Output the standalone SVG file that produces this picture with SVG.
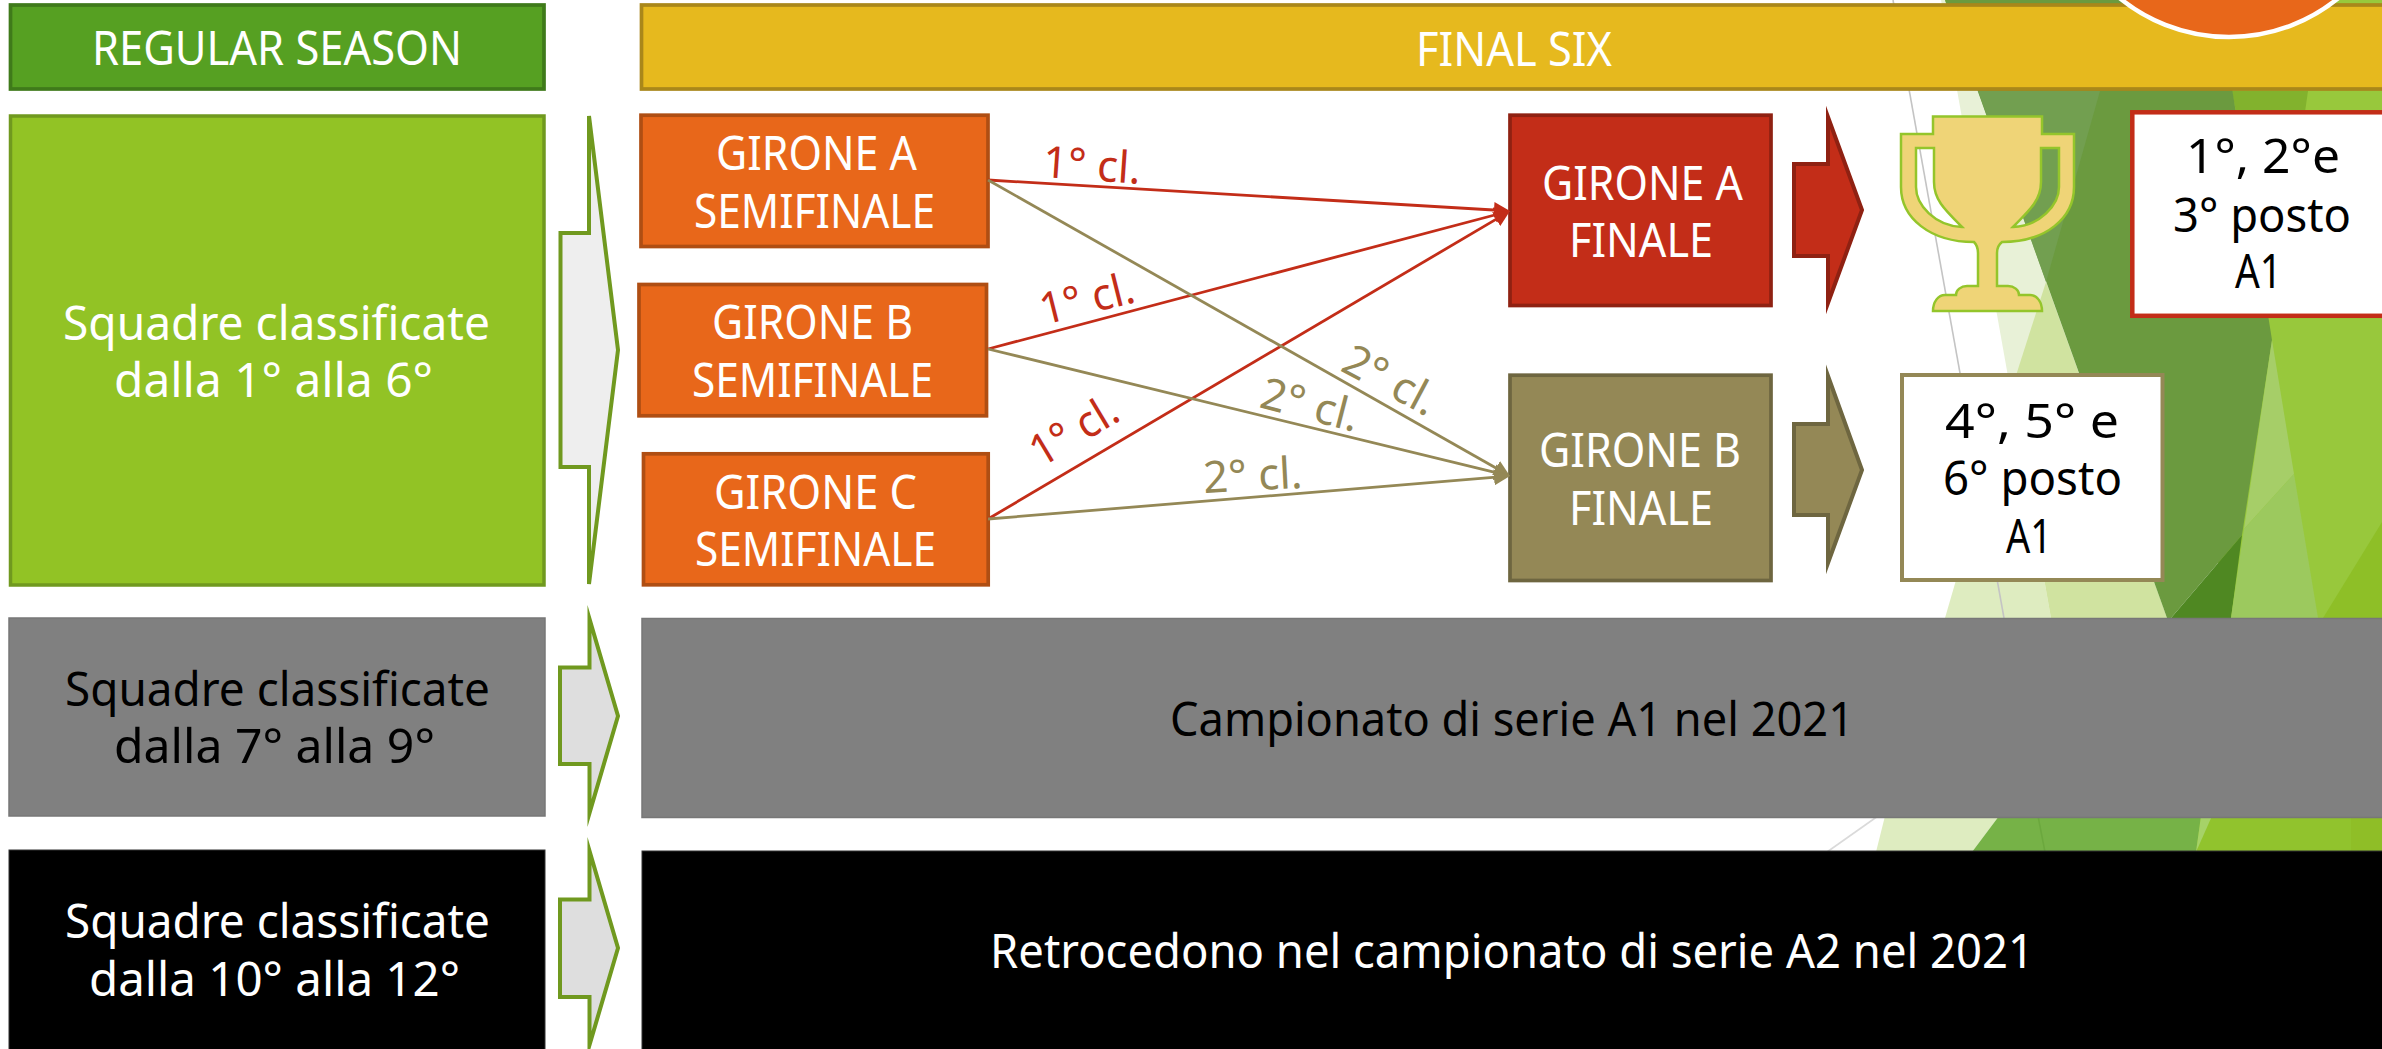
<svg xmlns="http://www.w3.org/2000/svg" width="2382" height="1049" viewBox="0 0 2382 1049">
<style>
text{font-family:"Noto Sans","Open Sans","Liberation Sans",sans-serif;font-size:48px;fill:#fff;font-variant-ligatures:none}
.k{fill:#000}
.lr{font-size:44px;fill:#C32D18}
.lo{font-size:44px;fill:#948856}
.semi{fill:#E8671A;stroke:#AF4E13;stroke-width:3.7}
.bar{stroke-width:3.7}
.big{stroke:#70991F;stroke-width:4}
.sharp{stroke-miterlimit:30}
.cr{stroke:#C32D18;stroke-width:2.8;fill:none}
.co{stroke:#948856;stroke-width:2.8;fill:none}
</style>
<defs>
<marker id="hr" markerUnits="userSpaceOnUse" markerWidth="16" markerHeight="16" refX="8" refY="8" orient="auto"><path d="M0 0L16 8L0 16Z" fill="#C32D18"/></marker>
<marker id="ho" markerUnits="userSpaceOnUse" markerWidth="16" markerHeight="16" refX="8" refY="8" orient="auto"><path d="M0 0L16 8L0 16Z" fill="#948856"/></marker>
</defs>
<rect width="2382" height="1049" fill="#fff"/>
<g id="background">
<rect x="1945" y="0" width="437" height="12" fill="#98C83C"/>
<rect x="2218" y="0" width="164" height="618" fill="#98C83C"/>
<polygon points="2323,618 2382,522 2382,618" fill="#8EBF27"/>
<polygon points="2232,91 2308,91 2305,112 2236,112" fill="#82B22D"/>
<polygon points="1941,0 1945,0 2167,618 2051,618" fill="#E8F1D7"/>
<polygon points="2011,391 1945,618 2051,618" fill="#DEECC0"/>
<polygon points="2046,282 2011,391 2051,618 2167,618" fill="#D0E3A0"/>
<polygon points="1945,0 2218,0 2272,340 2242,535 2171,618 2167,618" fill="#6B9A3F"/>
<polygon points="1978,91 2100,91 2046,282" fill="#729F50"/>
<polygon points="2171,618 2242,535 2231,618" fill="#4F8822"/>
<polygon points="2272,340 2294,474 2244,529" fill="#A6CE68"/>
<polygon points="2294,474 2318,618 2231,618 2244,529" fill="#9CC95E"/>
<line x1="1893" y1="0" x2="2004" y2="618" stroke="#C4C4C4" stroke-width="1.6"/>
<rect x="2196" y="816" width="186" height="36" fill="#91C32D"/>
<polygon points="1885,816 1999,816 1972,852 1876,852" fill="#DEECC0"/>
<polygon points="1999,816 2201,816 2196,852 1972,852" fill="#76B247"/>
<polygon points="2201,816 2212,816 2196,852" fill="#A6D268"/>
<rect x="2351" y="816" width="31" height="36" fill="#8FBE27"/>
<line x1="2038" y1="816" x2="2045" y2="852" stroke="#6BA83E" stroke-width="1.5"/>
<line x1="1878" y1="816" x2="1827" y2="852" stroke="#DADADA" stroke-width="1.6"/>
</g>
<g id="regular-season"><rect class="bar" x="10.5" y="5" width="533.500" height="84" fill="#56A022" stroke="#3F7A1A"/><text x="92" y="65" textLength="370" lengthAdjust="spacingAndGlyphs">REGULAR SEASON</text></g>
<g id="final-six"><rect class="bar" x="641.500" y="5" width="1750" height="84" fill="#E6B91E" stroke="#A9871A"/><text x="1416" y="66" textLength="196" lengthAdjust="spacingAndGlyphs">FINAL SIX</text></g>
<g id="top-circle"><circle cx="2229" cy="-136" r="173" fill="#E8671A" stroke="#fff" stroke-width="4.500"/></g>
<g id="reg-1-6"><rect x="10.500" y="116" width="533.500" height="469" fill="#92C325" stroke="#70991F" stroke-width="3.500"/><text x="63" y="340" textLength="427" lengthAdjust="spacingAndGlyphs">Squadre classificate</text><text x="114" y="397" textLength="319" lengthAdjust="spacingAndGlyphs">dalla 1° alla 6°</text></g>
<g id="arrow-1"><polygon class="big" points="560.500,233 589,233 589,116 618,350 589,584 589,467 560.500,467" fill="#EEEEEE"/></g>
<g id="reg-7-9"><rect x="9" y="618" width="536" height="198" fill="#808080" stroke="#777" stroke-width="1.500"/><text class="k" x="65" y="706" textLength="425" lengthAdjust="spacingAndGlyphs">Squadre classificate</text><text class="k" x="114" y="763" textLength="321" lengthAdjust="spacingAndGlyphs">dalla 7° alla 9°</text></g>
<g id="arrow-2"><polygon class="big sharp" points="560,667.500 589.500,667.500 589.500,619 618,716 589.500,813 589.500,764 560,764" fill="#DEDEDE"/></g>
<g id="reg-10-12"><rect x="9" y="850" width="536" height="210" fill="#000" stroke="#333" stroke-width="1"/><text x="65" y="938" textLength="425" lengthAdjust="spacingAndGlyphs">Squadre classificate</text><text x="89" y="996" textLength="371" lengthAdjust="spacingAndGlyphs">dalla 10° alla 12°</text></g>
<g id="arrow-3"><polygon class="big sharp" points="560,899.500 589.500,899.500 589.500,851 618,948 589.500,1045 589.500,997 560,997" fill="#DEDEDE"/></g>
<g id="serie-a1"><rect x="642" y="618.500" width="1750" height="199" fill="#808080" stroke="#777" stroke-width="1.500"/><text class="k" x="1170" y="736" textLength="684" lengthAdjust="spacingAndGlyphs">Campionato di serie A1 nel 2021</text></g>
<g id="serie-a2"><rect x="642" y="851" width="1750" height="210" fill="#000" stroke="#333" stroke-width="1"/><text x="990" y="968" textLength="1044" lengthAdjust="spacingAndGlyphs">Retrocedono nel campionato di serie A2 nel 2021</text></g>
<g id="semi-a"><rect class="semi" x="641" y="115.200" width="347" height="131.300"/><text x="716" y="170" textLength="201" lengthAdjust="spacingAndGlyphs">GIRONE A</text><text x="694" y="228" textLength="241" lengthAdjust="spacingAndGlyphs">SEMIFINALE</text></g>
<g id="semi-b"><rect class="semi" x="639" y="284.500" width="347.500" height="131.300"/><text x="712" y="339" textLength="201" lengthAdjust="spacingAndGlyphs">GIRONE B</text><text x="692" y="397" textLength="241" lengthAdjust="spacingAndGlyphs">SEMIFINALE</text></g>
<g id="semi-c"><rect class="semi" x="643.500" y="453.800" width="344.700" height="131"/><text x="714" y="509" textLength="203" lengthAdjust="spacingAndGlyphs">GIRONE C</text><text x="695" y="566" textLength="241" lengthAdjust="spacingAndGlyphs">SEMIFINALE</text></g>
<g id="final-a"><rect x="1510" y="115.200" width="261" height="190.300" fill="#C32D18" stroke="#8F2112" stroke-width="3.700"/><text x="1542" y="200" textLength="201" lengthAdjust="spacingAndGlyphs">GIRONE A</text><text x="1569" y="257" textLength="144" lengthAdjust="spacingAndGlyphs">FINALE</text></g>
<g id="final-b"><rect x="1510" y="375.200" width="261" height="205.300" fill="#948856" stroke="#6E6640" stroke-width="3.700"/><text x="1539" y="467" textLength="202" lengthAdjust="spacingAndGlyphs">GIRONE B</text><text x="1569" y="525" textLength="144" lengthAdjust="spacingAndGlyphs">FINALE</text></g>
<g id="arrow-red"><polygon class="sharp" points="1794,164 1828,164 1828,117 1862,210 1828,303 1828,256 1794,256" fill="#C32D18" stroke="#8F2112" stroke-width="4"/></g>
<g id="arrow-olive"><polygon class="sharp" points="1794,424 1828,424 1828,376 1862,470 1828,563 1828,515 1794,515" fill="#948856" stroke="#6E6640" stroke-width="4"/></g>
<g id="trophy"><path fill-rule="evenodd" fill="#EFD477" stroke="#94C52B" stroke-width="2.500" d="M1933 116.500H2042V134H2074V187C2074 218 2046 242 2002 242C1998 245 1997 249 1997 253V286H2008C2014 286 2019 290 2019 295H2030C2037 295 2042 302 2042 311H1933C1933 302 1938 295 1945 295H1956C1956 290 1961 286 1967 286H1978V253C1978 249 1977 245 1974 242C1930 242 1901 218 1901 187V134H1933ZM1916 148V187C1916 205 1935 226 1962 227C1945 210 1934 200 1934 182V148ZM2041 148V182C2041 200 2030 210 2013 227C2040 226 2059 205 2059 187V148Z"/></g>
<g id="result-1"><rect x="2132.300" y="112.300" width="260" height="203.500" fill="#fff" stroke="#C32D18" stroke-width="4.500"/><text class="k" x="2186" y="173" textLength="154" lengthAdjust="spacingAndGlyphs">1°, 2°e</text><text class="k" x="2173" y="232" textLength="178" lengthAdjust="spacingAndGlyphs">3° posto</text><text class="k" x="2235" y="288" textLength="47" lengthAdjust="spacingAndGlyphs">A1</text></g>
<g id="result-2"><rect x="1902" y="375" width="260.500" height="205" fill="#fff" stroke="#948856" stroke-width="4"/><text class="k" x="1945" y="438" textLength="174" lengthAdjust="spacingAndGlyphs">4°, 5° e</text><text class="k" x="1943" y="495" textLength="179" lengthAdjust="spacingAndGlyphs">6° posto</text><text class="k" x="2006" y="553" textLength="46" lengthAdjust="spacingAndGlyphs">A1</text></g>
<g id="connectors">
<path class="cr" d="M988 180L1502 210.500" marker-end="url(#hr)"/>
<path class="cr" d="M988 349L1502.300 213" marker-end="url(#hr)"/>
<path class="cr" d="M988 519L1503.100 215.100" marker-end="url(#hr)"/>
<path class="co" d="M988 180L1503 472" marker-end="url(#ho)"/>
<path class="co" d="M988 349L1502.200 474.100" marker-end="url(#ho)"/>
<path class="co" d="M988 519L1502 476.700" marker-end="url(#ho)"/>
<text class="lr" transform="translate(1042,177) rotate(4)" textLength="98" lengthAdjust="spacingAndGlyphs">1° cl.</text>
<text class="lr" transform="translate(1044,325) rotate(-14)" textLength="96" lengthAdjust="spacingAndGlyphs">1° cl.</text>
<text class="lr" transform="translate(1041,468) rotate(-31)" textLength="95" lengthAdjust="spacingAndGlyphs">1° cl.</text>
<text class="lo" transform="translate(1204,493) rotate(-3)" textLength="99" lengthAdjust="spacingAndGlyphs">2° cl.</text>
<text class="lo" transform="translate(1258,407) rotate(14.500)" textLength="100" lengthAdjust="spacingAndGlyphs">2° cl.</text>
<text class="lo" transform="translate(1339,370) rotate(28)" textLength="100" lengthAdjust="spacingAndGlyphs">2° cl.</text>
</g>
</svg>
